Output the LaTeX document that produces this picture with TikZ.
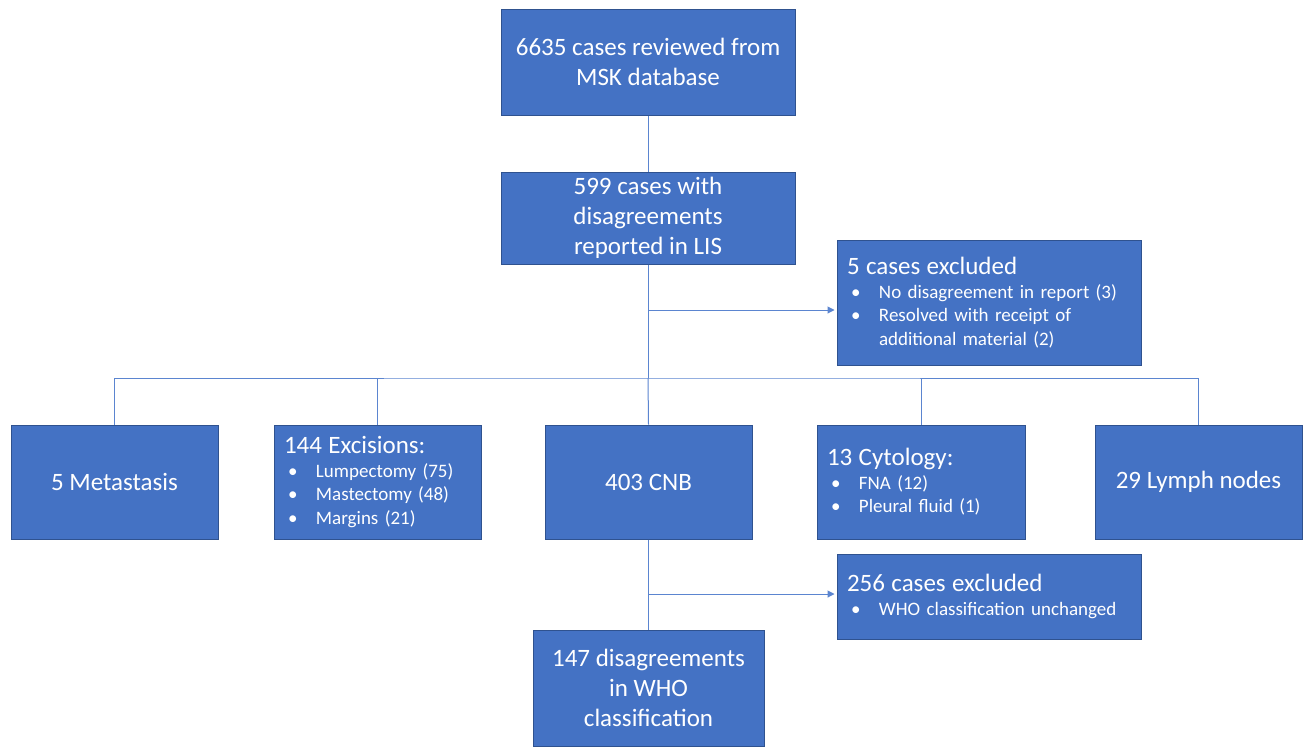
\documentclass[tikz,border=0pt]{standalone}
\usepackage{fontspec}
\setmainfont{Carlito}
\usetikzlibrary{arrows.meta}
\definecolor{boxfill}{HTML}{4472C4}
\definecolor{boxline}{HTML}{2F528F}
\definecolor{linec}{HTML}{5B85D0}
\newcommand{\bl}[1]{\makebox[32pt][l]{\hspace{4pt}\textbullet}#1}
\newcommand{\hd}[1]{{\fontsize{25}{28}\selectfont #1}}
\begin{document}
\begin{tikzpicture}[x=1pt,y=-1pt,
  box/.style={draw=boxline, fill=boxfill, line width=1pt, text=white, inner sep=0pt,
    font=\fontsize{25}{30}\selectfont, align=center},
  lbox/.style={box, align=left, inner xsep=10pt, font=\fontsize{19}{23.5}\selectfont},
  conn/.style={draw=linec, line width=1pt},
  arr/.style={conn, -{Triangle[length=7pt,width=7pt]}}]
\useasboundingbox[fill=white] (0,0) rectangle (1311,747);
\node[box, minimum width=294pt, minimum height=106pt] (top) at (648,62) {6635 cases reviewed from\\MSK database};
\node[box, minimum width=294pt, minimum height=92pt] (b2) at (648,218) {599 cases with\\disagreements\\reported in LIS};
\node[lbox, minimum width=304pt, minimum height=125pt, text width=284pt] (ex1) at (989,302.5)
  {\hd{5 cases excluded}\\\bl{No disagreement in report (3)}\\\bl{Resolved with receipt of}\\\hspace*{32pt}additional material (2)};
\node[box, minimum width=207pt, minimum height=114pt] (meta) at (114.5,482) {5 Metastasis};
\node[lbox, minimum width=207pt, minimum height=114pt, text width=187pt] (exc) at (377.5,482)
  {\hd{144 Excisions:}\\\bl{Lumpectomy (75)}\\\bl{Mastectomy (48)}\\\bl{Margins (21)}};
\node[box, minimum width=207pt, minimum height=114pt] (cnb) at (648.5,482) {403 CNB};
\node[lbox, minimum width=208pt, minimum height=114pt, text width=188pt] (cyt) at (921,482)
  {\hd{13 Cytology:}\\\bl{FNA (12)}\\\bl{Pleural fluid (1)}};
\node[box, minimum width=207pt, minimum height=114pt] (lym) at (1198.5,482) {29 Lymph nodes};
\node[lbox, minimum width=304pt, minimum height=85pt, text width=284pt] (ex2) at (989,596.5)
  {\hd{256 cases excluded}\\\bl{WHO classification unchanged}};
\node[box, minimum width=231pt, minimum height=116pt] (fin) at (648.5,688) {147 disagreements\\in WHO\\classification};
\coordinate (bus) at (648,378);
\coordinate (a1) at (648,310);
\coordinate (a2) at (648,594);
\draw[conn] (top) -- (b2);
\draw[conn] (b2) -- (bus);
\draw[conn] (meta.north) |- (bus) -| (lym.north);
\draw[conn] (exc.north) -- (exc.north |- bus);
\draw[conn] (cyt.north) -- (cyt.north |- bus);
\draw[conn] (bus) -- (cnb.north);
\draw[conn] (cnb) -- (fin);
\draw[arr] (a1) -- ([xshift=-2pt]a1 -| ex1.west);
\draw[arr] (a2) -- ([xshift=-2pt]a2 -| ex2.west);
\end{tikzpicture}
\end{document}
